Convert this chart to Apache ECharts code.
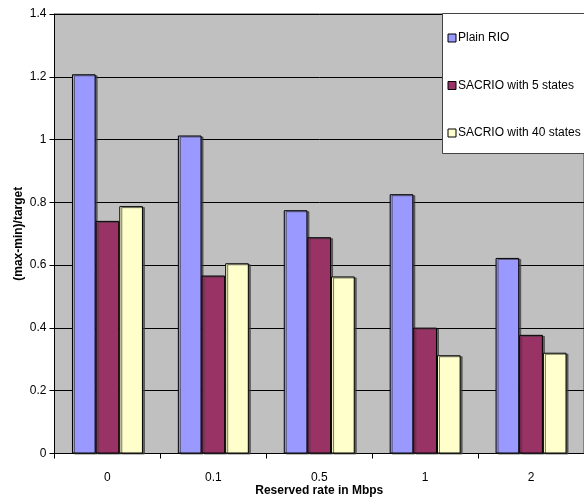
<!DOCTYPE html>
<html>
<head>
<meta charset="utf-8">
<script src="https://cdn.jsdelivr.net/npm/echarts@6/dist/echarts.min.js"></script>
<style>html,body{margin:0;padding:0;background:#fff}#c{width:584px;height:499px}</style>
</head>
<body>
<div id="c"></div>
<script>
var categories = ['0', '0.1', '0.5', '1', '2'];
var plainRIO = [1.208, 1.013, 0.775, 0.826, 0.623];
var sacrio5 = [0.741, 0.567, 0.689, 0.401, 0.378];
var sacrio40 = [0.788, 0.606, 0.564, 0.313, 0.321];
var seriesNames = ['Plain RIO', 'SACRIO with 5 states', 'SACRIO with 40 states'];
var yTicks = { min: 0, max: 1.4, interval: 0.2 };

var FONT = '"Liberation Sans", Arial, sans-serif';
var colors = ['#9999FF', '#993366', '#FFFFCC'];
function mk(name, data, color) {
  return {
    name: name, type: 'bar', data: data, barGap: '0%', barCategoryGap: '33%',
    itemStyle: { color: color, borderColor: '#000', borderWidth: 1,
      shadowColor: 'rgba(60,60,60,0.7)', shadowOffsetX: 2, shadowOffsetY: 1, shadowBlur: 0 },
    emphasis: { disabled: true }
  };
}
var chart = echarts.init(document.getElementById('c'), null, { renderer: 'canvas' });
chart.setOption({
  animation: false,
  textStyle: { fontFamily: FONT },
  grid: { left: 54.5, right: 0, top: 14, bottom: 45.5, containLabel: false, outerBoundsMode: 'none',
    show: true, backgroundColor: '#C0C0C0', borderColor: '#444', borderWidth: 1 },
  graphic: [{
    type: 'rect', shape: { x: 442.5, y: 13.5, width: 160, height: 140 },
    style: { fill: '#fff', stroke: '#444', lineWidth: 1 }, z: 5
  }],
  legend: {
    orient: 'vertical', left: 447.5, top: 32, padding: 0, itemGap: 35.5, itemWidth: 8, itemHeight: 8,
    icon: 'rect', z: 10,
    itemStyle: { borderColor: '#000', borderWidth: 1, shadowBlur: 0, shadowOffsetX: 0, shadowOffsetY: 0 },
    textStyle: { fontFamily: FONT, fontSize: 12, color: '#000', padding: [0, 0, 0, -3] },
    data: seriesNames
  },
  xAxis: {
    type: 'category', data: categories,
    name: 'Reserved rate in Mbps', nameLocation: 'middle', nameGap: 31.5, nameMoveOverlap: false,
    nameTextStyle: { fontFamily: FONT, fontSize: 12, fontWeight: 'bold', color: '#000' },
    axisLine: { lineStyle: { color: '#000', width: 1 } },
    axisTick: { show: true, length: 5, lineStyle: { color: '#000' } },
    axisLabel: { color: '#000', fontSize: 12, fontFamily: FONT, margin: 18 },
    splitLine: { show: false }
  },
  yAxis: {
    type: 'value', min: yTicks.min, max: yTicks.max, interval: yTicks.interval,
    name: '(max-min)/target', nameLocation: 'middle', nameGap: 30, nameMoveOverlap: false,
    nameTextStyle: { fontFamily: FONT, fontSize: 12, fontWeight: 'bold', color: '#000' },
    axisLine: { show: true, lineStyle: { color: '#000', width: 1 } },
    axisTick: { show: true, length: 5, lineStyle: { color: '#000' } },
    axisLabel: { color: '#000', fontSize: 12, fontFamily: FONT, margin: 8 },
    splitLine: { show: true, lineStyle: { color: '#000', width: 1 } }
  },
  series: [mk(seriesNames[0], plainRIO, colors[0]), mk(seriesNames[1], sacrio5, colors[1]), mk(seriesNames[2], sacrio40, colors[2])]
});
</script>
</body>
</html>
